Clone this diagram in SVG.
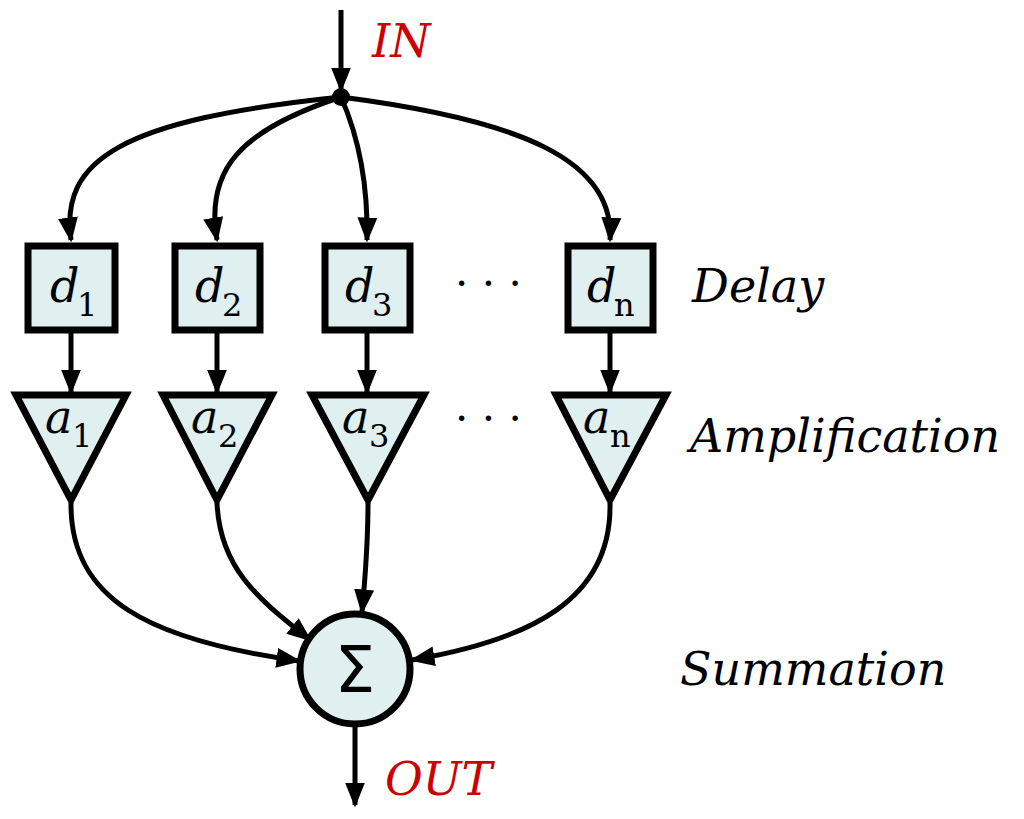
<svg xmlns="http://www.w3.org/2000/svg" width="1024" height="819" viewBox="0 0 1024 819">
<defs>
<marker id="ah" viewBox="0 0 10 10" refX="9" refY="5" markerWidth="5" markerHeight="5" markerUnits="strokeWidth" orient="auto">
<path d="M0,1 L10,5 L0,9 Z" fill="#000"/>
</marker>
<style>
.c{fill:none;stroke:#000;stroke-width:5;marker-end:url(#ah)}
.n{fill:#e0eff0;stroke:#000;stroke-width:7}
.t{font-family:"DejaVu Serif",serif;font-style:italic;font-size:46px}
.s{font-family:"DejaVu Serif",serif;font-size:32px}
.r{fill:#cc0000}
</style>
</defs>
<rect width="1024" height="819" fill="#fff"/>
<g id="connectors">
<path class="c" d="M341,10 L341,90"/>
<path class="c" d="M341,97 C120,120 60,160 71,240"/>
<path class="c" d="M341,97 C240,130 205,170 217,240"/>
<path class="c" d="M341,97 C360,140 368,190 367,240"/>
<path class="c" d="M341,97 C520,120 615,160 610,240"/>
<path class="c" d="M71,330 L71,392"/>
<path class="c" d="M217,330 L217,392"/>
<path class="c" d="M367,330 L367,392"/>
<path class="c" d="M610,330 L610,392"/>
<path class="c" d="M71,503 C70,600 150,640 299,661"/>
<path class="c" d="M217,503 C220,570 260,600 310,640"/>
<path class="c" d="M368,503 C368,540 365,580 362,612"/>
<path class="c" d="M610,503 C612,600 530,640 412,660"/>
<path class="c" d="M355,725 L355,805"/>
</g>
<g id="in"><circle cx="341" cy="97" r="9" fill="#000"/><text class="t r" x="372" y="57">IN</text></g>
<g id="d1"><rect class="n" x="28" y="246" width="87" height="84"/><text class="t" x="50" y="302">d</text><text class="s" x="77" y="316">1</text></g>
<g id="d2"><rect class="n" x="175" y="246" width="85" height="84"/><text class="t" x="195" y="302">d</text><text class="s" x="222" y="316">2</text></g>
<g id="d3"><rect class="n" x="325" y="246" width="85" height="84"/><text class="t" x="345" y="302">d</text><text class="s" x="372" y="316">3</text></g>
<g id="dn"><rect class="n" x="568" y="246" width="85" height="84"/><text class="t" x="587" y="302">d</text><text class="s" x="614" y="316">n</text></g>
<g id="a1"><path class="n" d="M16,395 L126,395 L71,500 Z"/><text class="t" x="45" y="433">a</text><text class="s" x="72" y="447">1</text></g>
<g id="a2"><path class="n" d="M163,395 L272,395 L217,500 Z"/><text class="t" x="191" y="433">a</text><text class="s" x="218" y="447">2</text></g>
<g id="a3"><path class="n" d="M312,395 L424,395 L368,500 Z"/><text class="t" x="342" y="433">a</text><text class="s" x="369" y="447">3</text></g>
<g id="an"><path class="n" d="M556,395 L666,395 L610,500 Z"/><text class="t" x="583" y="433">a</text><text class="s" x="610" y="447">n</text></g>
<g id="dots"><text class="s" x="455" y="298" style="font-size:42px">· · ·</text><text class="s" x="455" y="433" style="font-size:42px">· · ·</text></g>
<g id="sum"><circle class="n" cx="355" cy="669" r="55"/><text x="355" y="692" text-anchor="middle" style="font-family:'DejaVu Sans',sans-serif;font-size:64px">Σ</text></g>
<g id="out"><text class="t r" x="385" y="795">OUT</text></g>
<g id="labels"><text class="t" x="692" y="302">Delay</text><text class="t" x="690" y="452">Amplification</text><text class="t" x="680" y="685">Summation</text></g>
</svg>
